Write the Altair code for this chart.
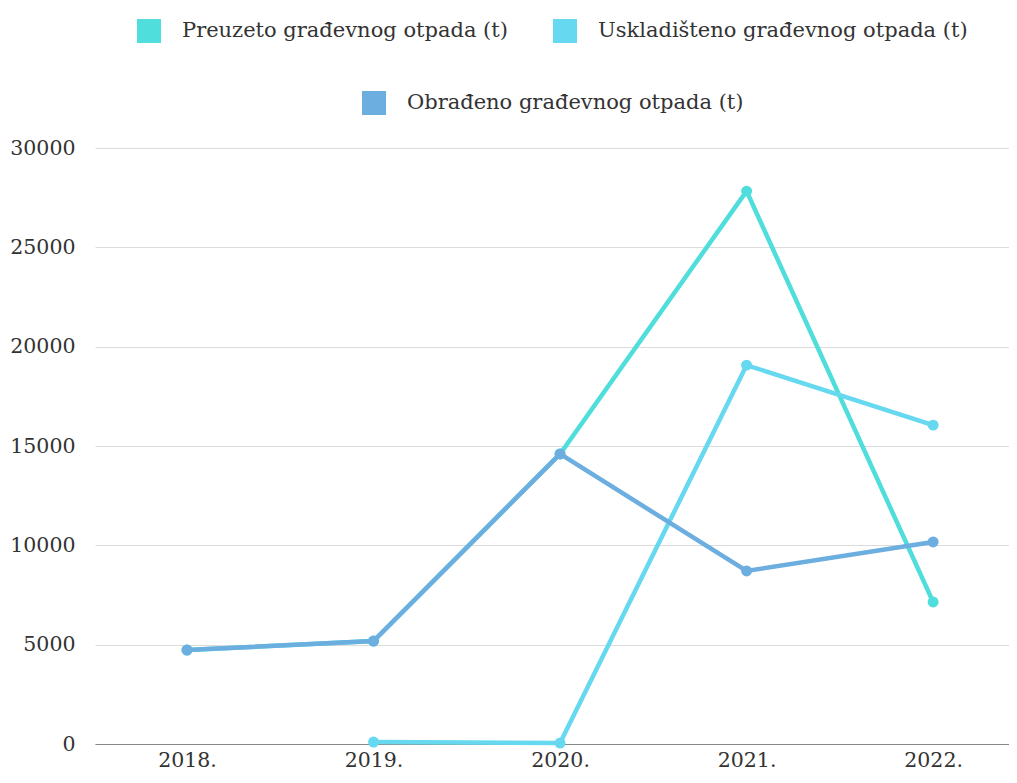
import altair as alt
import pandas as pd

years = ["2018.", "2019.", "2020.", "2021.", "2022."]
preuzeto = [4730, 5180, 14600, 27830, 7150]
uskladisteno = [None, 100, 50, 19070, 16050]
obradeno = [4730, 5180, 14600, 8710, 10170]
names = ["Preuzeto građevnog otpada (t)",
         "Uskladišteno građevnog otpada (t)",
         "Obrađeno građevnog otpada (t)"]
colors = ["#4fdedb", "#66d8ef", "#6caee0"]
y_ticks = [0, 5000, 10000, 15000, 20000, 25000, 30000]

rows = []
for name, vals in zip(names, [preuzeto, uskladisteno, obradeno]):
    for yr, v in zip(years, vals):
        if v is not None:
            rows.append({"year": yr, "value": v, "series": name})
df = pd.DataFrame(rows)

font = "DejaVu Serif"
fs = 20.5
lfs = 21

x = alt.X("year:N", sort=years,
          scale=alt.Scale(type="point", padding=0.45, align=0.548),
          axis=alt.Axis(title=None, labelAngle=0, grid=False, ticks=False,
                        domainColor="#888", domainWidth=1, labelPadding=6,
                        labelFontSize=fs, labelColor="#333", labelFont=font))
y = alt.Y("value:Q", scale=alt.Scale(domain=[0, 30000], nice=False),
          axis=alt.Axis(title=None, values=y_ticks, format="d", grid=True, gridColor="#dcdcdc",
                        ticks=False, domain=False, labelPadding=20,
                        labelFontSize=fs, labelColor="#333", labelFont=font))

leg = dict(orient="none", direction="horizontal", title=None, symbolType="square",
           symbolSize=144, symbolStrokeWidth=12, labelFont=font, labelFontSize=lfs,
           labelColor="#333", labelLimit=0, columnPadding=27, labelOffset=21)

base = alt.Chart(df).mark_line(strokeWidth=4.5, point=alt.OverlayMarkDef(filled=True, size=120, opacity=1))

layer_a = base.transform_filter(
    alt.FieldOneOfPredicate(field="series", oneOf=names[:2])
).encode(
    x=x, y=y,
    color=alt.Color("series:N", sort=names[:2],
                    scale=alt.Scale(domain=names[:2], range=colors[:2]),
                    legend=alt.Legend(legendX=42, legendY=-129, **leg))
)
layer_b = base.transform_filter(
    alt.FieldEqualPredicate(field="series", equal=names[2])
).encode(
    x=x, y=y,
    color=alt.Color("series:N",
                    scale=alt.Scale(domain=names[2:], range=colors[2:]),
                    legend=alt.Legend(legendX=267, legendY=-57, **leg))
)

chart = alt.layer(layer_a, layer_b).resolve_scale(color="independent").properties(
    width=914, height=596,
    autosize=alt.AutoSizeParams(type="none"),
    padding={"left": 87, "top": 140, "right": 0, "bottom": 31},
).configure_view(stroke=None)

chart.save("out.html", embed_options={"renderer": "svg", "actions": False})
